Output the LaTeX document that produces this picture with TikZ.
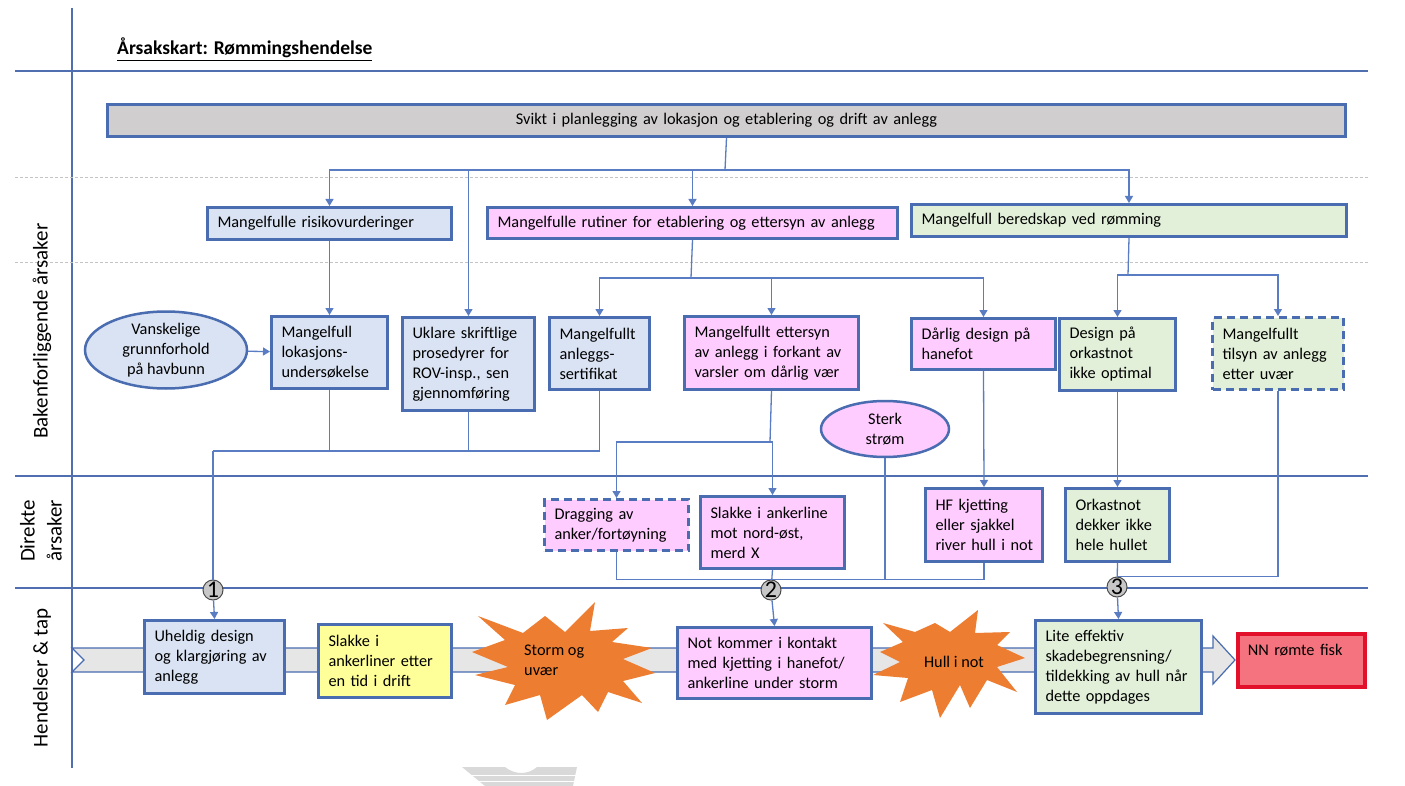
\documentclass[tikz,border=0pt]{standalone}
\usepackage{fontspec}
\setmainfont{Carlito}
\usetikzlibrary{shapes.geometric,arrows.meta,calc}
\definecolor{bord}{HTML}{4A6CB0}
\definecolor{conncol}{HTML}{5A7CC2}
\definecolor{lblue}{HTML}{DAE3F3}
\definecolor{pinkf}{HTML}{FFCCFF}
\definecolor{greenf}{HTML}{E2F0D9}
\definecolor{yelf}{HTML}{FFFF99}
\definecolor{grayf}{HTML}{D0CECE}
\definecolor{bandf}{HTML}{E7E6E6}
\definecolor{redf}{HTML}{F4737E}
\definecolor{redb}{HTML}{E3102C}
\definecolor{orangef}{HTML}{ED7D31}
\definecolor{lanel}{HTML}{4F6FB0}
\definecolor{dashl}{HTML}{C4C4C4}
\tikzset{
 bx/.style={draw=bord, line width=3pt, inner xsep=10pt, inner ysep=2pt, align=left, anchor=north west, font=\fontsize{16.3}{20}\selectfont, text=black},
 dbx/.style={bx, dash pattern=on 8pt off 5pt},
 conn/.style={draw=conncol, line width=1.3pt},
 arr/.style={conn, -{Triangle[width=8pt,length=7pt]}},
 ell/.style={ellipse, draw=bord, line width=2.5pt, align=center, font=\fontsize{16.3}{20}\selectfont, inner sep=0pt},
 numc/.style={circle, draw=black!70, fill=black!22, line width=1pt, minimum size=20pt, inner sep=0pt, font=\fontsize{24}{24}\selectfont},
 lane/.style={draw=lanel, line width=1.2pt},
 dlane/.style={draw=dashl, line width=1pt, dash pattern=on 3pt off 2pt},
 lanelbl/.style={rotate=90, font=\fontsize{21}{27}\selectfont, align=center},
 startxt/.style={font=\fontsize{16.3}{20}\selectfont, align=left, inner sep=0pt},
}
\begin{document}
\begin{tikzpicture}[x=1pt,y=-1pt]
\useasboundingbox (0,0) rectangle (1405,786);
\fill[white] (0,0) rectangle (1405,786);
% lanes
\draw[lane] (72,8) -- (72,768);
\draw[lane] (15,71) -- (1368,71);
\draw[dlane] (15,178) -- (1368,178);
\draw[dlane] (15,263) -- (1368,263);
\draw[lane] (15,476) -- (1368,476);
\draw[lane] (15,588) -- (1368,588);
% lane labels
\node[lanelbl] (l1) at (42,331) {Bakenforliggende årsaker};
\node[lanelbl] (l2) at (41,531) {Direkte\\årsaker};
\node[lanelbl] (l3) at (42,678) {Hendelser \& tap};
% title
\node[anchor=base west, font=\fontsize{19.5}{22}\selectfont\bfseries, inner sep=0pt] (title) at (117,55) {\underline{Årsakskart: Rømmingshendelse}};
% band arrow
\draw[fill=bandf, draw=bord, line width=1.2pt] (72,648) -- (1213,648) -- (1213,636) -- (1235,660) -- (1213,684) -- (1213,672) -- (72,672) -- (84,660) -- cycle;
% grey artifact
\fill[black!15] (462,767) -- (505,767) .. controls (515,775) and (528,775) .. (537,767) -- (577,767) -- (573,786) -- (485,786) -- cycle;
\draw[white, line width=0.8pt] (470,775) -- (576,775);
\draw[white, line width=0.8pt] (478,781) -- (575,781);
% stars
\fill[orangef] (478,616) -- (523,633) -- (545,616) -- (565,632) -- (595,602) -- (590,631) -- (628,628) -- (612,642) -- (652,648) -- (623,659) -- (655,673) -- (623,681) -- (642,703) -- (608,692) -- (598,712) -- (582,695) -- (547,720) -- (540,695) -- (505,705) -- (515,685) -- (475,675) -- (508,667) -- (472,652) -- (505,640) -- cycle;
\fill[orangef] (883,623) -- (915,632) -- (935,623) -- (950,632) -- (978,610) -- (975,633) -- (1010,632) -- (997,645) -- (1025,658) -- (997,667) -- (1017,692) -- (987,680) -- (970,708) -- (960,685) -- (940,718) -- (932,690) -- (900,702) -- (908,678) -- (873,675) -- (900,662) -- (880,652) -- (903,642) -- cycle;
\node[startxt, anchor=west] (storm) at (524,660) {Storm og\\uvær};
\node[startxt] (hull) at (954,662) {Hull i not};
% top
\node[bx, fill=grayf, align=center, minimum width=1238pt, minimum height=32pt, text width=1218pt] (top) at (106,103) {Svikt i planlegging av lokasjon og etablering og drift av anlegg};
% level 1
\node[bx, fill=lblue, minimum width=244pt, minimum height=32pt, text width=224pt] (risk) at (206,206) {Mangelfulle risikovurderinger};
\node[bx, fill=pinkf, minimum width=410pt, minimum height=31pt, text width=390pt] (rut) at (486,206) {Mangelfulle rutiner for etablering og ettersyn av anlegg};
\node[bx, fill=greenf, minimum width=435pt, minimum height=32pt, text width=415pt] (ber) at (910,203) {Mangelfull beredskap ved rømming};
% level 2
\node[ell, fill=lblue, minimum width=162pt, minimum height=77pt] (van) at (166,350) {Vanskelige\\grunnforhold\\på havbunn};
\node[bx, fill=lblue, minimum width=116pt, minimum height=72pt, text width=96pt] (lok) at (270,315) {Mangelfull\\lokasjons-\\undersøkelse};
\node[bx, fill=lblue, minimum width=132pt, minimum height=93pt, text width=112pt] (ukl) at (401,316) {Uklare~skriftlige\\prosedyrer~for\\ROV-insp.,~sen\\gjennomføring};
\node[bx, fill=lblue, minimum width=100pt, minimum height=72pt, text width=80pt] (sert) at (548,316) {Mangelfullt\\anleggs-\\sertifikat};
\node[bx, fill=pinkf, minimum width=174pt, minimum height=73pt, text width=154pt] (ett) at (683,315) {Mangelfullt~ettersyn\\av~anlegg~i~forkant~av\\varsler~om~dårlig~vær};
\node[bx, fill=pinkf, minimum width=144pt, minimum height=51pt, text width=124pt] (dar) at (910,317) {Dårlig design på\\hanefot};
\node[bx, fill=greenf, minimum width=116pt, minimum height=72pt, text width=96pt] (dor) at (1058,317) {Design på\\orkastnot\\ikke~optimal};
\node[dbx, fill=greenf, minimum width=131pt, minimum height=72pt, text width=111pt] (til) at (1211,316) {Mangelfullt\\tilsyn~av~anlegg\\etter uvær};
\node[ell, fill=pinkf, minimum width=128pt, minimum height=56pt] (strom) at (885,429) {Sterk\\strøm};
% direct causes
\node[dbx, fill=pinkf, minimum width=144pt, minimum height=51pt, text width=124pt] (drag) at (543,498) {Dragging av\\anker/fortøyning};
\node[bx, fill=pinkf, minimum width=144pt, minimum height=72pt, text width=124pt] (slk) at (699,495) {Slakke~i~ankerline\\mot nord-øst,\\merd X};
\node[bx, fill=pinkf, minimum width=117pt, minimum height=73pt, text width=97pt] (hf) at (924,487) {HF kjetting\\eller~sjakkel\\river~hull~i~not};
\node[bx, fill=greenf, minimum width=104pt, minimum height=73pt, text width=84pt] (ork) at (1064,487) {Orkastnot\\dekker~ikke\\hele~hullet};
% events
\node[bx, fill=lblue, minimum width=140pt, minimum height=73pt, text width=120pt] (uh) at (143,619) {Uheldig~design\\og~klargjøring~av\\anlegg};
\node[bx, fill=yelf, minimum width=133pt, minimum height=73pt, text width=113pt] (sla) at (317,623) {Slakke i\\ankerliner~etter\\en~tid~i~drift};
\node[bx, fill=pinkf, minimum width=194pt, minimum height=71pt, text width=174pt] (not) at (676,626) {Not~kommer~i~kontakt\\med~kjetting~i~hanefot/\\ankerline~under~storm};
\node[bx, fill=greenf, minimum width=166pt, minimum height=93pt, text width=146pt] (lite) at (1034,619) {Lite effektiv\\skadebegrensning/\\tildekking~av~hull~når\\dette oppdages};
\node[bx, fill=redf, draw=redb, line width=3.5pt, minimum width=127pt, minimum height=53pt, text width=107pt] (nn) at (1236,632) {NN rømte fisk\\\mbox{}};
% numbered circles
\node[numc] (c1) at (213,590) {1};
\node[numc] (c2) at (771,590) {2};
\node[numc] (c3) at (1117,587) {3};
% connectors
\coordinate (h1) at (725,170);
\draw[conn] (top.south) -- (h1);
\draw[arr] (h1) -| (risk.north);
\draw[arr] (h1) -| (ukl.north);
\draw[arr] (h1) -| (rut.north);
\draw[arr] (h1) -| (ber.north);
\coordinate (h2) at (691,278);
\draw[conn] (rut.south) -- (h2);
\draw[arr] (h2) -| (sert.north);
\draw[arr] (h2) -| (ett.north);
\draw[arr] (h2) -| (dar.north);
\coordinate (h3) at (1128,275);
\draw[conn] (ber.south) -- (h3);
\draw[arr] (h3) -| (dor.north);
\draw[arr] (h3) -| (til.north);
\draw[arr] (risk.south) -- (lok.north);
\draw[arr] (van) -- (lok);
\coordinate (j1) at (213,451);
\draw[conn] (lok.south) |- (j1);
\draw[conn] (ukl.south) |- (j1);
\draw[conn] (sert.south) |- (j1);
\draw[conn] (j1) -- (c1);
\draw[arr] (c1) -- (uh.north);
\coordinate (j2) at (770,442);
\draw[conn] (ett.south) -- (j2);
\draw[arr] (j2) -| (drag.north);
\draw[arr] (j2) -| (slk.north);
\draw[arr] (dar.south) -- (hf.north);
\draw[arr] (dor.south) -- (ork.north);
\draw[conn] (drag.south) |- (c2.north);
\draw[conn] (hf.south) |- (c2.north);
\draw[conn] (strom.south) -- (strom.south |- c2.north);
\draw[conn] (slk.south) -- (c2);
\draw[arr] (c2) -- (not.north);
\draw[conn] (ork.south) -- (c3);
\draw[conn] (til.south) |- (c3.north);
\draw[arr] (c3) -- (lite.north);
\end{tikzpicture}
\end{document}
